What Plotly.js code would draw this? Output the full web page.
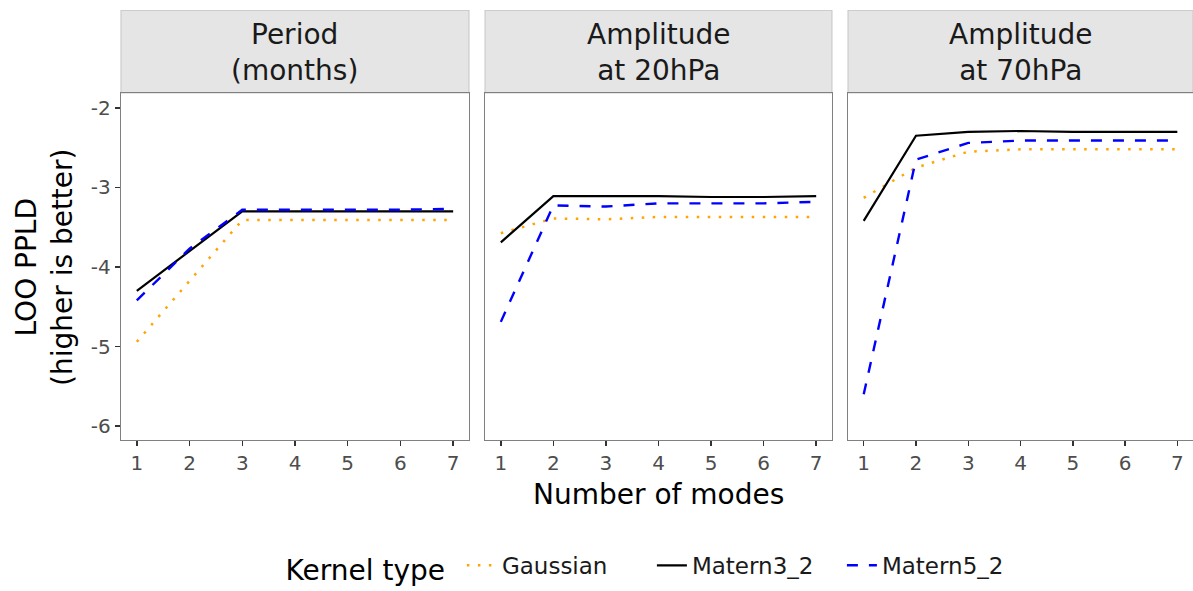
<!DOCTYPE html>
<html>
<head>
<meta charset="utf-8">
<script src="https://cdn.plot.ly/plotly-3.0.1.min.js"></script>
<style>html,body{margin:0;padding:0;background:#fff;}#chart{width:1193px;height:591px;}</style>
</head>
<body>
<div id="chart"></div>
<script>
// ---- data ----
const modes = [1, 2, 3, 4, 5, 6, 7];
const panels = ["Period<br>(months)", "Amplitude<br>at 20hPa", "Amplitude<br>at 70hPa"];
const kernels = ["Gaussian", "Matern3_2", "Matern5_2"];

const periodGaussian = [-4.94, -4.17, -3.41, -3.41, -3.41, -3.41, -3.41];
const periodMatern32 = [-4.30, -3.80, -3.30, -3.30, -3.30, -3.30, -3.30];
const periodMatern52 = [-4.42, -3.77, -3.28, -3.28, -3.28, -3.28, -3.27];

const amp20Gaussian = [-3.575, -3.39, -3.40, -3.37, -3.37, -3.37, -3.37];
const amp20Matern32 = [-3.69, -3.11, -3.11, -3.11, -3.12, -3.12, -3.11];
const amp20Matern52 = [-4.69, -3.225, -3.24, -3.20, -3.20, -3.20, -3.18];

const amp70Gaussian = [-3.13, -2.75, -2.55, -2.52, -2.52, -2.52, -2.52];
const amp70Matern32 = [-3.42, -2.35, -2.30, -2.29, -2.30, -2.30, -2.30];
const amp70Matern52 = [-5.60, -2.65, -2.44, -2.41, -2.41, -2.41, -2.41];

const yTicks = [-2, -3, -4, -5, -6];

// ---- styling ----
const seriesByPanel = [
  [periodGaussian, periodMatern32, periodMatern52],
  [amp20Gaussian, amp20Matern32, amp20Matern52],
  [amp70Gaussian, amp70Matern32, amp70Matern52]
];
const lineStyles = [
  {color: "#FFA500", dash: "2.5px,8.5px", width: 2.5},
  {color: "#000000", dash: "solid", width: 2.2},
  {color: "#0000FF", dash: "11px,11px", width: 2.4}
];

const traces = [];
seriesByPanel.forEach((series, p) => {
  series.forEach((vals, k) => {
    traces.push({
      type: "scatter", mode: "lines",
      x: modes, y: vals,
      name: kernels[k],
      legendgroup: kernels[k],
      showlegend: p === 0,
      line: lineStyles[k],
      xaxis: p === 0 ? "x" : "x" + (p + 1),
      yaxis: p === 0 ? "y" : "y" + (p + 1),
      hoverinfo: "skip"
    });
  });
});

const font = "DejaVu Sans, sans-serif";
const domains = [[0, 0.3246], [0.3396, 0.6632], [0.6782, 1.0]];
const yRange = [-6.175, -1.8125];
const titleSize = 28, tickSize = 20, legendSize = 23;

const layout = {
  width: 1193, height: 591,
  margin: {l: 121, r: 0, t: 93, b: 149, pad: 0},
  paper_bgcolor: "#ffffff", plot_bgcolor: "#ffffff",
  font: {family: font, color: "#4d4d4d", size: tickSize},
  showlegend: true,
  legend: {
    orientation: "h", x: 0.501, xanchor: "center", y: -0.367, yanchor: "middle",
    title: {text: "Kernel type ", font: {size: titleSize, color: "#000000", family: font}, side: "left"},
    font: {size: legendSize, color: "#1a1a1a", family: font},
    tracegroupgap: 0, entrywidth: 145, entrywidthmode: "pixels"
  },
  shapes: [], annotations: []
};

domains.forEach((d, i) => {
  const xa = i === 0 ? "xaxis" : "xaxis" + (i + 1);
  const ya = i === 0 ? "yaxis" : "yaxis" + (i + 1);
  layout[xa] = {
    domain: d, range: [0.7, 7.3], anchor: i === 0 ? "y" : "y" + (i + 1),
    tickvals: modes, ticktext: modes.map(String),
    ticks: "outside", ticklen: 5, tickwidth: 1.5, tickcolor: "#333333",
    showgrid: false, zeroline: false,
    showline: true, mirror: true, linecolor: "#808080", linewidth: 1.2,
    tickfont: {size: tickSize, color: "#4d4d4d", family: font}, fixedrange: true
  };
  layout[ya] = {
    domain: [0, 1], range: yRange, anchor: i === 0 ? "x" : "x" + (i + 1),
    tickvals: yTicks, ticktext: yTicks.map(v => String(v)),
    showticklabels: i === 0,
    ticks: i === 0 ? "outside" : "", ticklen: 5, tickwidth: 1.5, tickcolor: "#333333",
    showgrid: false, zeroline: false,
    showline: true, mirror: true, linecolor: "#808080", linewidth: 1.2,
    tickfont: {size: tickSize, color: "#4d4d4d", family: font}, fixedrange: true
  };
  // strip header
  layout.shapes.push({
    type: "rect", xref: "paper", yref: "paper",
    x0: d[0], x1: d[1], y0: 1.0, y1: 1.2378,
    fillcolor: "#e5e5e5", line: {color: "#cccccc", width: 1.2}, layer: "below"
  });
  layout.annotations.push({
    xref: "paper", yref: "paper", x: (d[0] + d[1]) / 2, y: 1.1175,
    xanchor: "center", yanchor: "middle", showarrow: false,
    text: panels[i], font: {size: titleSize, color: "#1a1a1a", family: font}
  });
});

// axis titles
layout.annotations.push({
  xref: "paper", yref: "paper", x: 0.501, y: -0.1576,
  xanchor: "center", yanchor: "middle", showarrow: false,
  text: "Number of modes", font: {size: titleSize, color: "#000000", family: font}
});
layout.annotations.push({
  xref: "paper", yref: "paper", x: -0.0709, y: 0.4986,
  xanchor: "center", yanchor: "middle", showarrow: false, textangle: -90,
  text: "LOO PPLD<br>(higher is better)", font: {size: titleSize, color: "#000000", family: font}
});

Plotly.newPlot("chart", traces, layout, {displayModeBar: false, staticPlot: true});
</script>
</body>
</html>
